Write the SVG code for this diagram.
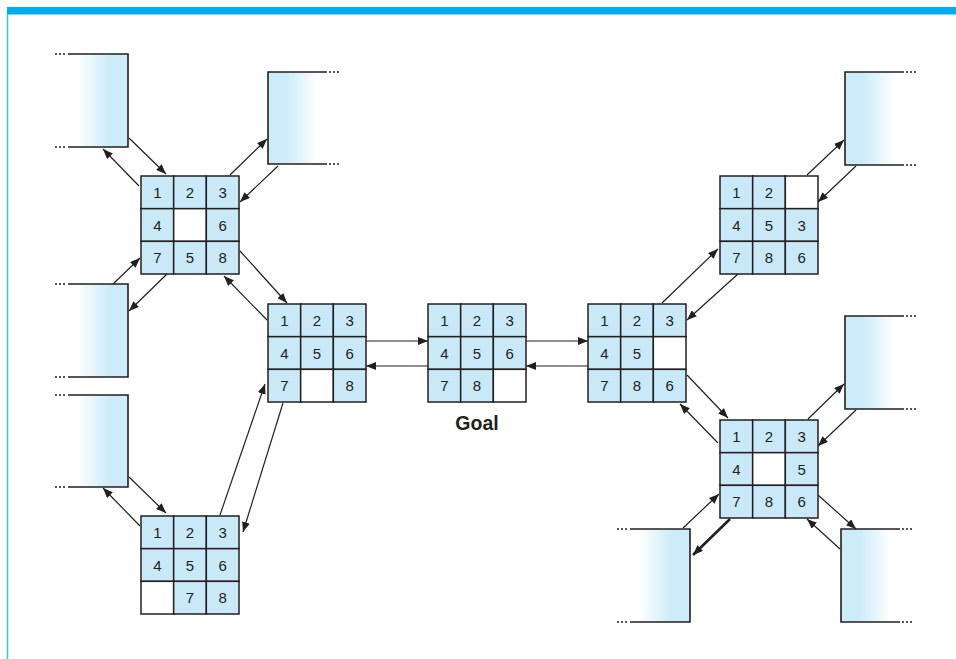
<svg xmlns="http://www.w3.org/2000/svg" width="956" height="659" viewBox="0 0 956 659">
<style>
.c{fill:#c9e9f8;stroke:#231f20;stroke-width:1.5}
.e{fill:#ffffff;stroke:#231f20;stroke-width:1.5}
.n{font-family:"Liberation Sans",Arial,sans-serif;font-size:15px;fill:#231f20;text-anchor:middle}
.b{fill:none;stroke:#231f20;stroke-width:1.6}
.d{fill:none;stroke:#231f20;stroke-width:1.6;stroke-dasharray:2 2}
.a{fill:none;stroke:#231f20;stroke-width:1.2;marker-end:url(#ah)}
.ab{fill:none;stroke:#231f20;stroke-width:2.6;marker-end:url(#ah)}
</style>
<defs>
<marker id="ah" viewBox="0 0 10 8" refX="10" refY="4" markerWidth="10" markerHeight="8" markerUnits="userSpaceOnUse" orient="auto">
<path d="M0,0 L10,4 L0,8 z" fill="#231f20"/>
</marker>
<linearGradient id="gL" x1="0" y1="0" x2="1" y2="0">
<stop offset="0" stop-color="#ffffff"/>
<stop offset="0.15" stop-color="#ffffff"/>
<stop offset="0.7" stop-color="#cdebf9"/>
<stop offset="1" stop-color="#cdebf9"/>
</linearGradient>
<linearGradient id="gR" x1="1" y1="0" x2="0" y2="0">
<stop offset="0" stop-color="#ffffff"/>
<stop offset="0.15" stop-color="#ffffff"/>
<stop offset="0.7" stop-color="#cdebf9"/>
<stop offset="1" stop-color="#cdebf9"/>
</linearGradient>
</defs>
<rect width="956" height="659" fill="#ffffff"/>
<g id="frame">
<rect x="7" y="7" width="949" height="7.5" fill="#00aeef"/>
<line x1="7.5" y1="14" x2="7.5" y2="659" stroke="#3ec1f0" stroke-width="1.5"/>
</g>

<g id="boxL1">
<rect x="68" y="54" width="60" height="93" fill="url(#gL)"/>
<path class="b" d="M68,54 H128 V147 H68"/>
<path class="d" d="M55,54 H67 M55,147 H67"/>
</g>
<g id="boxL2">
<rect x="68" y="284" width="60" height="93" fill="url(#gL)"/>
<path class="b" d="M68,284 H128 V377 H68"/>
<path class="d" d="M55,284 H67 M55,377 H67"/>
</g>
<g id="boxL3">
<rect x="68" y="395" width="60" height="92" fill="url(#gL)"/>
<path class="b" d="M68,395 H128 V487 H68"/>
<path class="d" d="M55,395 H67 M55,487 H67"/>
</g>
<g id="boxL4">
<rect x="630" y="529" width="60" height="93" fill="url(#gL)"/>
<path class="b" d="M630,529 H690 V622 H630"/>
<path class="d" d="M617,529 H629 M617,622 H629"/>
</g>
<g id="boxR1">
<rect x="268" y="72" width="59" height="92" fill="url(#gR)"/>
<path class="b" d="M327,72 H268 V164 H327"/>
<path class="d" d="M329,72 H341 M329,164 H341"/>
</g>
<g id="boxR2">
<rect x="845" y="72" width="59" height="93" fill="url(#gR)"/>
<path class="b" d="M904,72 H845 V165 H904"/>
<path class="d" d="M906,72 H918 M906,165 H918"/>
</g>
<g id="boxR3">
<rect x="845" y="316" width="59" height="93" fill="url(#gR)"/>
<path class="b" d="M904,316 H845 V409 H904"/>
<path class="d" d="M906,316 H918 M906,409 H918"/>
</g>
<g id="boxR4">
<rect x="841" y="529" width="59" height="93" fill="url(#gR)"/>
<path class="b" d="M900,529 H841 V622 H900"/>
<path class="d" d="M902,529 H914 M902,622 H914"/>
</g>

<g id="gridA" transform="translate(141,176)">
<rect class="c" x="0" y="0" width="32.67" height="32.67"/><rect class="c" x="32.67" y="0" width="32.67" height="32.67"/><rect class="c" x="65.33" y="0" width="32.67" height="32.67"/>
<rect class="c" x="0" y="32.67" width="32.67" height="32.67"/><rect class="e" x="32.67" y="32.67" width="32.67" height="32.67"/><rect class="c" x="65.33" y="32.67" width="32.67" height="32.67"/>
<rect class="c" x="0" y="65.33" width="32.67" height="32.67"/><rect class="c" x="32.67" y="65.33" width="32.67" height="32.67"/><rect class="c" x="65.33" y="65.33" width="32.67" height="32.67"/>
<text class="n" x="16.33" y="21.8">1</text><text class="n" x="49" y="21.8">2</text><text class="n" x="81.67" y="21.8">3</text>
<text class="n" x="16.33" y="54.5">4</text><text class="n" x="81.67" y="54.5">6</text>
<text class="n" x="16.33" y="87.2">7</text><text class="n" x="49" y="87.2">5</text><text class="n" x="81.67" y="87.2">8</text>
</g>
<g id="gridB" transform="translate(268,304)">
<rect class="c" x="0" y="0" width="32.67" height="32.67"/><rect class="c" x="32.67" y="0" width="32.67" height="32.67"/><rect class="c" x="65.33" y="0" width="32.67" height="32.67"/>
<rect class="c" x="0" y="32.67" width="32.67" height="32.67"/><rect class="c" x="32.67" y="32.67" width="32.67" height="32.67"/><rect class="c" x="65.33" y="32.67" width="32.67" height="32.67"/>
<rect class="c" x="0" y="65.33" width="32.67" height="32.67"/><rect class="e" x="32.67" y="65.33" width="32.67" height="32.67"/><rect class="c" x="65.33" y="65.33" width="32.67" height="32.67"/>
<text class="n" x="16.33" y="21.8">1</text><text class="n" x="49" y="21.8">2</text><text class="n" x="81.67" y="21.8">3</text>
<text class="n" x="16.33" y="54.5">4</text><text class="n" x="49" y="54.5">5</text><text class="n" x="81.67" y="54.5">6</text>
<text class="n" x="16.33" y="87.2">7</text><text class="n" x="81.67" y="87.2">8</text>
</g>
<g id="gridGoal" transform="translate(428,304)">
<rect class="c" x="0" y="0" width="32.67" height="32.67"/><rect class="c" x="32.67" y="0" width="32.67" height="32.67"/><rect class="c" x="65.33" y="0" width="32.67" height="32.67"/>
<rect class="c" x="0" y="32.67" width="32.67" height="32.67"/><rect class="c" x="32.67" y="32.67" width="32.67" height="32.67"/><rect class="c" x="65.33" y="32.67" width="32.67" height="32.67"/>
<rect class="c" x="0" y="65.33" width="32.67" height="32.67"/><rect class="c" x="32.67" y="65.33" width="32.67" height="32.67"/><rect class="e" x="65.33" y="65.33" width="32.67" height="32.67"/>
<text class="n" x="16.33" y="21.8">1</text><text class="n" x="49" y="21.8">2</text><text class="n" x="81.67" y="21.8">3</text>
<text class="n" x="16.33" y="54.5">4</text><text class="n" x="49" y="54.5">5</text><text class="n" x="81.67" y="54.5">6</text>
<text class="n" x="16.33" y="87.2">7</text><text class="n" x="49" y="87.2">8</text>
<text x="49" y="126" font-family="Liberation Sans,Arial,sans-serif" font-size="19.5" font-weight="bold" fill="#231f20" text-anchor="middle">Goal</text>
</g>
<g id="gridD" transform="translate(588,304)">
<rect class="c" x="0" y="0" width="32.67" height="32.67"/><rect class="c" x="32.67" y="0" width="32.67" height="32.67"/><rect class="c" x="65.33" y="0" width="32.67" height="32.67"/>
<rect class="c" x="0" y="32.67" width="32.67" height="32.67"/><rect class="c" x="32.67" y="32.67" width="32.67" height="32.67"/><rect class="e" x="65.33" y="32.67" width="32.67" height="32.67"/>
<rect class="c" x="0" y="65.33" width="32.67" height="32.67"/><rect class="c" x="32.67" y="65.33" width="32.67" height="32.67"/><rect class="c" x="65.33" y="65.33" width="32.67" height="32.67"/>
<text class="n" x="16.33" y="21.8">1</text><text class="n" x="49" y="21.8">2</text><text class="n" x="81.67" y="21.8">3</text>
<text class="n" x="16.33" y="54.5">4</text><text class="n" x="49" y="54.5">5</text>
<text class="n" x="16.33" y="87.2">7</text><text class="n" x="49" y="87.2">8</text><text class="n" x="81.67" y="87.2">6</text>
</g>
<g id="gridE" transform="translate(720,420)">
<rect class="c" x="0" y="0" width="32.67" height="32.67"/><rect class="c" x="32.67" y="0" width="32.67" height="32.67"/><rect class="c" x="65.33" y="0" width="32.67" height="32.67"/>
<rect class="c" x="0" y="32.67" width="32.67" height="32.67"/><rect class="e" x="32.67" y="32.67" width="32.67" height="32.67"/><rect class="c" x="65.33" y="32.67" width="32.67" height="32.67"/>
<rect class="c" x="0" y="65.33" width="32.67" height="32.67"/><rect class="c" x="32.67" y="65.33" width="32.67" height="32.67"/><rect class="c" x="65.33" y="65.33" width="32.67" height="32.67"/>
<text class="n" x="16.33" y="21.8">1</text><text class="n" x="49" y="21.8">2</text><text class="n" x="81.67" y="21.8">3</text>
<text class="n" x="16.33" y="54.5">4</text><text class="n" x="81.67" y="54.5">5</text>
<text class="n" x="16.33" y="87.2">7</text><text class="n" x="49" y="87.2">8</text><text class="n" x="81.67" y="87.2">6</text>
</g>
<g id="gridF" transform="translate(720,176)">
<rect class="c" x="0" y="0" width="32.67" height="32.67"/><rect class="c" x="32.67" y="0" width="32.67" height="32.67"/><rect class="e" x="65.33" y="0" width="32.67" height="32.67"/>
<rect class="c" x="0" y="32.67" width="32.67" height="32.67"/><rect class="c" x="32.67" y="32.67" width="32.67" height="32.67"/><rect class="c" x="65.33" y="32.67" width="32.67" height="32.67"/>
<rect class="c" x="0" y="65.33" width="32.67" height="32.67"/><rect class="c" x="32.67" y="65.33" width="32.67" height="32.67"/><rect class="c" x="65.33" y="65.33" width="32.67" height="32.67"/>
<text class="n" x="16.33" y="21.8">1</text><text class="n" x="49" y="21.8">2</text>
<text class="n" x="16.33" y="54.5">4</text><text class="n" x="49" y="54.5">5</text><text class="n" x="81.67" y="54.5">3</text>
<text class="n" x="16.33" y="87.2">7</text><text class="n" x="49" y="87.2">8</text><text class="n" x="81.67" y="87.2">6</text>
</g>
<g id="gridG" transform="translate(141,516)">
<rect class="c" x="0" y="0" width="32.67" height="32.67"/><rect class="c" x="32.67" y="0" width="32.67" height="32.67"/><rect class="c" x="65.33" y="0" width="32.67" height="32.67"/>
<rect class="c" x="0" y="32.67" width="32.67" height="32.67"/><rect class="c" x="32.67" y="32.67" width="32.67" height="32.67"/><rect class="c" x="65.33" y="32.67" width="32.67" height="32.67"/>
<rect class="e" x="0" y="65.33" width="32.67" height="32.67"/><rect class="c" x="32.67" y="65.33" width="32.67" height="32.67"/><rect class="c" x="65.33" y="65.33" width="32.67" height="32.67"/>
<text class="n" x="16.33" y="21.8">1</text><text class="n" x="49" y="21.8">2</text><text class="n" x="81.67" y="21.8">3</text>
<text class="n" x="16.33" y="54.5">4</text><text class="n" x="49" y="54.5">5</text><text class="n" x="81.67" y="54.5">6</text>
<text class="n" x="49" y="87.2">7</text><text class="n" x="81.67" y="87.2">8</text>
</g>

<g id="connectors">
<line class="a" x1="129" y1="138" x2="166" y2="174"/>
<line class="a" x1="139" y1="186" x2="103" y2="149"/>
<line class="a" x1="230" y1="175" x2="267" y2="139"/>
<line class="a" x1="278" y1="166" x2="240" y2="202"/>
<line class="a" x1="113" y1="284" x2="140" y2="258"/>
<line class="a" x1="167" y1="274" x2="129" y2="311"/>
<line class="a" x1="240" y1="251" x2="287" y2="303"/>
<line class="a" x1="267" y1="320" x2="224" y2="276"/>
<line class="a" x1="220" y1="515" x2="265" y2="384"/>
<line class="a" x1="283" y1="403" x2="243" y2="532"/>
<line class="a" x1="129" y1="477" x2="166" y2="513"/>
<line class="a" x1="140" y1="526" x2="103" y2="488"/>
<line class="a" x1="366" y1="341" x2="428" y2="341"/>
<line class="a" x1="428" y1="366" x2="366" y2="366"/>
<line class="a" x1="526" y1="341" x2="588" y2="341"/>
<line class="a" x1="588" y1="366" x2="526" y2="366"/>
<line class="a" x1="662" y1="303" x2="718" y2="249"/>
<line class="a" x1="738" y1="274" x2="687" y2="320"/>
<line class="a" x1="807" y1="175" x2="844" y2="140"/>
<line class="a" x1="856" y1="166" x2="818" y2="202"/>
<line class="a" x1="687" y1="375" x2="728" y2="418"/>
<line class="a" x1="718" y1="443" x2="680" y2="404"/>
<line class="a" x1="808" y1="419" x2="844" y2="384"/>
<line class="a" x1="856" y1="410" x2="818" y2="446"/>
<line class="a" x1="683" y1="528" x2="719" y2="494"/>
<line class="ab" x1="730" y1="519" x2="693" y2="555"/>
<line class="a" x1="818" y1="495" x2="856" y2="529"/>
<line class="a" x1="840" y1="549" x2="807" y2="519"/>
</g>
</svg>
